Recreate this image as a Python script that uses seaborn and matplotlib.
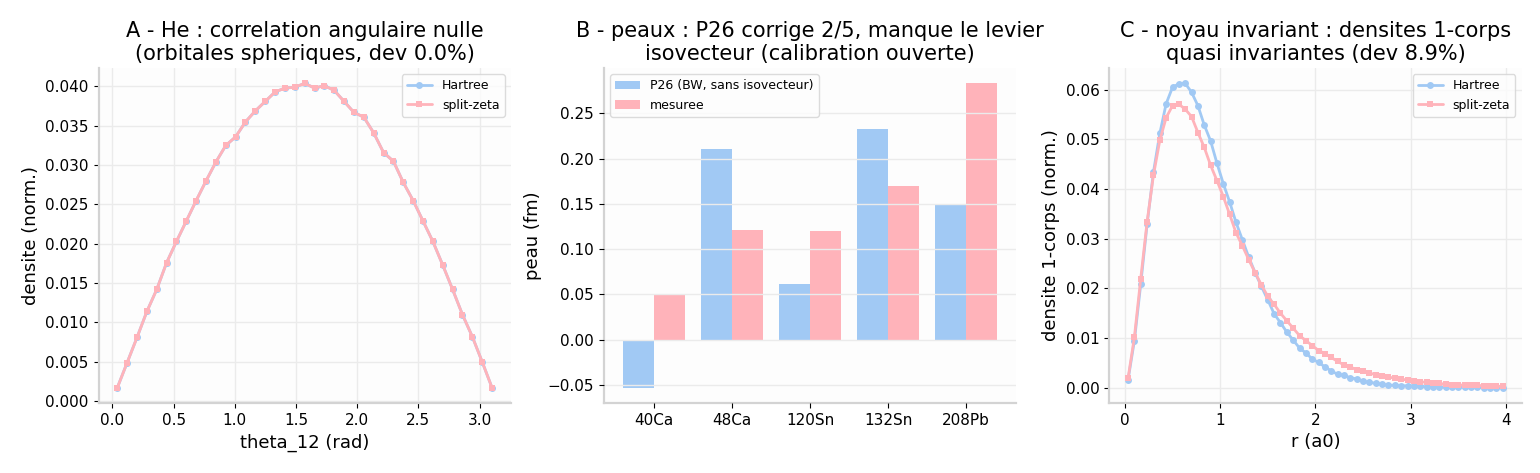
import numpy as np
import pandas as pd
import matplotlib
matplotlib.use("Agg")
import matplotlib.pyplot as plt
import seaborn as sns

# panel A : angular density, 39 bins on [0, pi]
theta_vals = (np.arange(39) + 0.5) * np.pi / 39
dens_theta = [0.0017, 0.0049, 0.0081, 0.0114, 0.0142, 0.0176, 0.0203, 0.0229, 0.0255,
              0.0280, 0.0304, 0.0325, 0.0336, 0.0355, 0.0369, 0.0381, 0.0393, 0.0398,
              0.0399, 0.0404, 0.0398, 0.0401, 0.0395, 0.0381, 0.0367, 0.0361, 0.0341,
              0.0316, 0.0305, 0.0278, 0.0255, 0.0229, 0.0203, 0.0173, 0.0142, 0.0110,
              0.0082, 0.0050, 0.0017]
hartree_theta = dens_theta
splitzeta_theta = dens_theta

# panel B : neutron skins
noyaux = ["40Ca", "48Ca", "120Sn", "132Sn", "208Pb"]
peau_p26 = [-0.053, 0.210, 0.061, 0.233, 0.149]
peau_mesuree = [0.050, 0.121, 0.120, 0.170, 0.283]

# panel C : radial one-body densities, 60 bins on [0, 4]
r_vals = (np.arange(60) + 0.5) * 4 / 60
hartree_r = [0.0016, 0.0095, 0.0209, 0.0329, 0.0434, 0.0512, 0.0572, 0.0605, 0.0612, 0.0613,
             0.0595, 0.0568, 0.0529, 0.0497, 0.0452, 0.0411, 0.0374, 0.0333, 0.0298, 0.0263,
             0.0232, 0.0204, 0.0177, 0.0149, 0.0131, 0.0112, 0.0096, 0.0080, 0.0070, 0.0058,
             0.0051, 0.0042, 0.0034, 0.0027, 0.0025, 0.0020, 0.0018, 0.0013, 0.0011, 0.0009,
             0.0007, 0.0005, 0.0005, 0.0004, 0.0004, 0.0003, 0.0003, 0.0002, 0.0002, 0.0002,
             0.0001, 0.0001, 0.0001, 0.0001, 0.0001, 0.0001, 0.0000, 0.0000, 0.0000, 0.0000]
splitzeta_r = [0.0019, 0.0102, 0.0220, 0.0334, 0.0428, 0.0498, 0.0544, 0.0568, 0.0571, 0.0561,
               0.0546, 0.0514, 0.0484, 0.0448, 0.0417, 0.0385, 0.0349, 0.0312, 0.0286, 0.0258,
               0.0232, 0.0207, 0.0184, 0.0168, 0.0150, 0.0135, 0.0120, 0.0105, 0.0095, 0.0085,
               0.0075, 0.0069, 0.0061, 0.0053, 0.0046, 0.0042, 0.0036, 0.0034, 0.0030, 0.0026,
               0.0024, 0.0021, 0.0020, 0.0018, 0.0015, 0.0014, 0.0012, 0.0011, 0.0009, 0.0009,
               0.0007, 0.0006, 0.0006, 0.0005, 0.0005, 0.0005, 0.0004, 0.0003, 0.0003, 0.0003]

blue = "#a1c9f4"
pink = "#ffb3ba"

sns.set_style("whitegrid")
plt.rcParams.update({
    "axes.facecolor": "#fdfdfd",
    "axes.edgecolor": "#d3d3d3",
    "axes.linewidth": 1.6,
    "grid.color": "#ebebeb",
    "grid.linewidth": 1.0,
    "xtick.bottom": True,
    "ytick.left": True,
    "xtick.major.size": 3.5,
    "ytick.major.size": 3.5,
    "xtick.color": "black",
    "ytick.color": "black",
    "text.color": "black",
    "axes.labelcolor": "black",
    "xtick.labelsize": 11,
    "ytick.labelsize": 11,
    "axes.labelsize": 13,
    "axes.titlesize": 15,
})
plt.rcParams["font.family"] = ["DejaVu Sans"]

fig, axes = plt.subplots(1, 3, figsize=(15.4, 4.73), dpi=100)
fig.subplots_adjust(left=0.064, right=0.988, top=0.856, bottom=0.148, wspace=0.226)

# A
ax = axes[0]
sns.lineplot(x=theta_vals, y=hartree_theta, ax=ax, color=blue, marker="o",
             markersize=5, markeredgewidth=0, linewidth=2, label="Hartree")
sns.lineplot(x=theta_vals, y=splitzeta_theta, ax=ax, color=pink, marker="s",
             markersize=5, markeredgewidth=0, linewidth=2, label="split-zeta")
ax.set_title("A - He : correlation angulaire nulle\n(orbitales spheriques, dev 0.0%)")
ax.set_xlabel("theta_12 (rad)")
ax.set_ylabel("densite (norm.)")
ax.legend(loc="upper right", fontsize=9, edgecolor="#d3d3d3")

# B
ax = axes[1]
df_b = pd.DataFrame({
    "noyau": noyaux * 2,
    "peau": peau_p26 + peau_mesuree,
    "source": ["P26 (BW, sans isovecteur)"] * len(noyaux) + ["mesuree"] * len(noyaux),
})
sns.barplot(data=df_b, x="noyau", y="peau", hue="source", ax=ax,
            palette=[blue, pink], linewidth=0, saturation=1)
ax.set_axisbelow(False)
ax.set_xlim(-0.64, len(noyaux) - 0.36)
ax.set_title("B - peaux : P26 corrige 2/5, manque le levier\nisovecteur (calibration ouverte)")
ax.set_xlabel("")
ax.set_ylabel("peau (fm)")
ax.set_yticks([-0.05, 0.0, 0.05, 0.10, 0.15, 0.20, 0.25])
ax.legend(loc="upper left", fontsize=9, edgecolor="#d3d3d3", title=None)

# C
ax = axes[2]
sns.lineplot(x=r_vals, y=hartree_r, ax=ax, color=blue, marker="o",
             markersize=5, markeredgewidth=0, linewidth=2, label="Hartree")
sns.lineplot(x=r_vals, y=splitzeta_r, ax=ax, color=pink, marker="s",
             markersize=5, markeredgewidth=0, linewidth=2, label="split-zeta")
ax.set_title("C - noyau invariant : densites 1-corps\nquasi invariantes (dev 8.9%)")
ax.set_xlabel("r (a0)")
ax.set_ylabel("densite 1-corps (norm.)")
ax.legend(loc="upper right", fontsize=9, edgecolor="#d3d3d3")

for ax in axes:
    sns.despine(ax=ax)

fig.savefig("out.png", dpi=100)
